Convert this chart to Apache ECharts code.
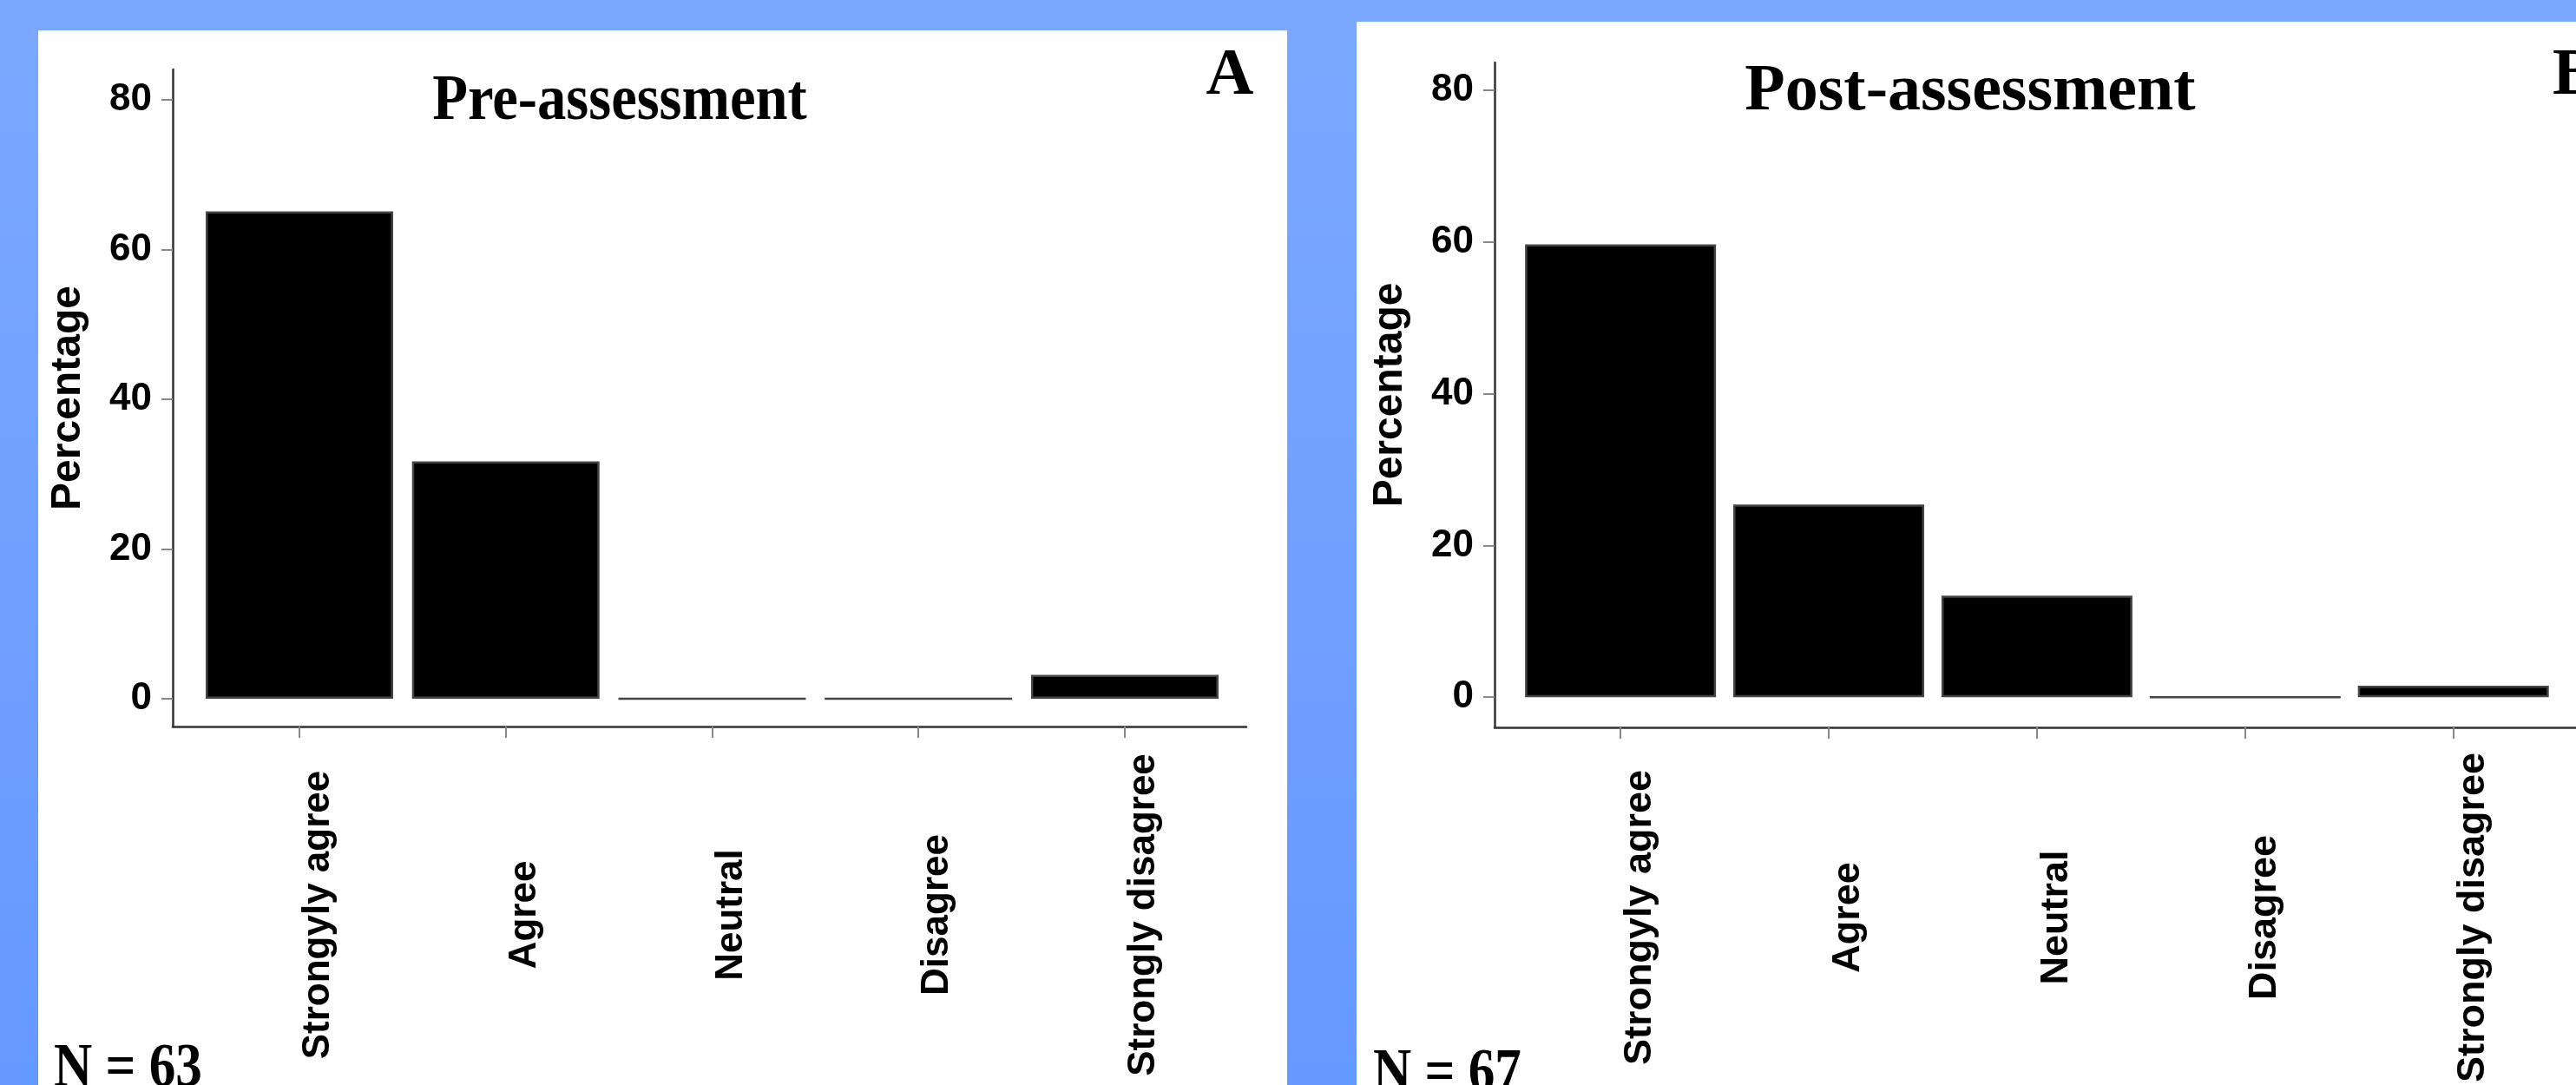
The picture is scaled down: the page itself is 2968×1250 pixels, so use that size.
<!DOCTYPE html>
<html>
<head>
<meta charset="utf-8">
<title>Pre- and post-assessment</title>
<script src="https://cdn.jsdelivr.net/npm/echarts@6/dist/echarts.min.js"></script>
<style>
html, body { margin: 0; padding: 0; }
#chart { width: 2968px; height: 1250px; }
</style>
</head>
<body>
<div id="chart"></div>
<script>
const CATEGORIES = ['Strongyly agree', 'Agree', 'Neutral', 'Disagree', 'Strongly disagree'];
const PRE_PERCENT = [65.1, 31.7, 0, 0, 3.2];
const POST_PERCENT = [59.7, 25.4, 13.4, 0, 1.5];
const Y_TICKS = [0, 20, 40, 60, 80];
const X_TICKS = [0, 1, 2, 3, 4];
const PANEL_TITLES = ['Pre-assessment', 'Post-assessment'];
const PANEL_LETTERS = ['A', 'B'];
const SAMPLE_SIZES = ['N = 63', 'N = 67'];

// layout of the two panels (pixels)
const panels = [
    { grid: { left: 199, top: 80, width: 1237, height: 757 }, yMin: -3.71, yMax: 84.06, xMin: -0.614, xMax: 4.589,
      barWidth: 216, labelMargin: 217, labelSize: 44, data: PRE_PERCENT },
    { grid: { left: 1722, top: 72, width: 1253, height: 772 }, yMin: -3.975, yMax: 83.69, xMin: -0.605, xMax: 4.589,
      barWidth: 220, labelMargin: 219, labelSize: 45, data: POST_PERCENT }
];

const chart = echarts.init(document.getElementById('chart'));

const axisLine = { show: true, onZero: false, lineStyle: { color: '#333', width: 2.5 } };
const axisTick = (vals) => ({ show: true, customValues: vals, length: 13, lineStyle: { color: '#888', width: 2 } });
const serifText = (x, y, text, size, align, sx) => ({
    type: 'text', x: x, y: y, scaleX: sx || 1,
    style: { text: text, font: 'bold ' + size + 'px "Liberation Serif"', fill: '#000', align: align, verticalAlign: 'middle' }
});

chart.setOption({
    animation: false,
    backgroundColor: new echarts.graphic.LinearGradient(0, 0, 0, 1, [
        { offset: 0, color: '#7ba8ff' },
        { offset: 1, color: '#6699ff' }
    ]),
    graphic: [
        { type: 'rect', z: -10, shape: { x: 44, y: 35, width: 1439, height: 1215 }, style: { fill: '#fff' } },
        { type: 'rect', z: -10, shape: { x: 1563, y: 25, width: 1405, height: 1225 }, style: { fill: '#fff' } },
        serifText(714, 118, PANEL_TITLES[0], 74, 'center', 0.9),
        serifText(2270, 106, PANEL_TITLES[1], 76, 'center'),
        serifText(1417, 88, PANEL_LETTERS[0], 76, 'center'),
        serifText(2941, 88, PANEL_LETTERS[1], 76, 'left'),
        serifText(62, 1232, SAMPLE_SIZES[0], 72, 'left', 0.85),
        serifText(1582, 1238, SAMPLE_SIZES[1], 72, 'left', 0.85)
    ],
    grid: panels.map(p => p.grid),
    xAxis: panels.map((p, i) => ({
        type: 'value',
        gridIndex: i,
        min: p.xMin,
        max: p.xMax,
        splitLine: { show: false },
        axisLine: axisLine,
        axisTick: axisTick(X_TICKS),
        axisLabel: {
            customValues: X_TICKS,
            formatter: v => CATEGORIES[Math.round(v)],
            rotate: 90,
            align: 'center',
            verticalAlign: 'top',
            margin: p.labelMargin,
            color: '#000',
            fontFamily: 'Liberation Sans',
            fontWeight: 'bold',
            fontSize: p.labelSize
        }
    })),
    yAxis: panels.map((p, i) => ({
        type: 'value',
        gridIndex: i,
        min: p.yMin,
        max: p.yMax,
        name: 'Percentage',
        nameLocation: 'middle',
        nameGap: 96,
        nameTextStyle: { color: '#000', fontFamily: 'Liberation Sans', fontWeight: 'bold', fontSize: 48 },
        splitLine: { show: false },
        axisLine: axisLine,
        axisTick: axisTick(Y_TICKS),
        axisLabel: {
            customValues: Y_TICKS,
            margin: 24,
            color: '#000',
            fontFamily: 'Liberation Sans',
            fontWeight: 'bold',
            fontSize: 44
        }
    })),
    series: panels.map((p, i) => ({
        type: 'bar',
        xAxisIndex: i,
        yAxisIndex: i,
        barWidth: p.barWidth,
        itemStyle: { color: '#000', borderColor: '#444', borderWidth: 2.5 },
        data: p.data.map((v, k) => [X_TICKS[k], v])
    }))
});
</script>
</body>
</html>
